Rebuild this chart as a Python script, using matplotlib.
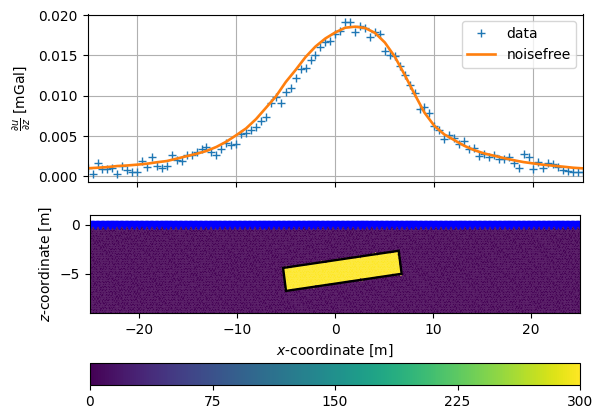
# Gravity response of a dipping block: data vs noisefree, plus the model mesh.

import numpy as np
import matplotlib
matplotlib.use("Agg")
import matplotlib.pyplot as plt
from matplotlib.path import Path
from matplotlib.tri import Triangulation
from matplotlib.cm import ScalarMappable
from matplotlib.colors import Normalize

# receiver profile, every 0.5 m from -25 to 25
receiver_x = np.arange(101) * 0.5 - 25

# observed data, in 1e-3 mGal
data_vals = [
    1.0, 0.25, 1.6, 0.9, 0.85, 1.07, 0.25, 1.3, 0.74, 0.57,
    0.57, 1.9, 1.2, 2.35, 1.3, 1.0, 1.3, 2.6, 2.0, 1.93,
    2.65, 2.7, 3.06, 3.4, 3.7, 3.0, 2.7, 3.4, 4.1, 3.85,
    4.0, 5.25, 5.4, 5.7, 6.1, 6.9, 7.3, 9.05, 9.88, 9.05,
    10.4, 10.9, 12.15, 13.3, 13.4, 14.4, 15.0, 16.1, 16.7, 16.8,
    17.7, 18.0, 19.2, 19.1, 17.9, 18.65, 18.4, 17.3, 17.9, 17.6,
    15.6, 15.0, 14.9, 13.68, 12.57, 11.3, 10.3, 8.35, 8.6, 7.8,
    6.3, 5.75, 4.6, 5.1, 4.7, 4.0, 4.4, 3.35, 3.55, 2.5,
    2.77, 2.43, 2.64, 2.1, 2.1, 2.43, 1.6, 1.0, 2.73, 2.35,
    0.87, 1.73, 1.07, 1.6, 1.5, 1.2, 0.78, 0.7, 0.57, 0.57,
    0.57,
]

# noisefree curve, every 1 m
curve_x = np.arange(51) - 25
curve_vals = [
    1.0, 1.07, 1.15, 1.28, 1.35, 1.45, 1.57, 1.75, 1.9, 2.2,
    2.5, 2.8, 3.15, 3.65, 4.3, 5.1, 5.95, 7.1, 8.5, 9.9,
    11.7, 13.2, 14.8, 16.1, 17.1, 17.85, 18.43, 18.56, 18.4, 17.8,
    16.6, 14.85, 12.6, 10.2, 7.9, 6.25, 5.2, 4.5, 3.8, 3.26,
    2.85, 2.56, 2.27, 2.0, 1.77, 1.6, 1.44, 1.32, 1.2, 1.07,
    0.99,
]

# block corners
block_x = [-5.3, 6.5, 6.8, -5.0]
block_z = [-4.4, -2.65, -5.0, -6.75]

cbar_ticks = [0, 75, 150, 225, 300]
background_val = 0
block_val = 300

W, H = 603.0, 417.0


def pix_axes(fig, left, right, top, bottom):
    return fig.add_axes([left / W, 1 - bottom / H, (right - left) / W, (bottom - top) / H])


fig = plt.figure(figsize=(W / 100, H / 100), dpi=100)

# data panel
ax1 = pix_axes(fig, 87.6, 583, 14.5, 182)
ax1.plot(receiver_x, np.array(data_vals) * 1e-3, "+", label="data")
ax1.plot(curve_x, np.array(curve_vals) * 1e-3, lw=1.9, label="noisefree")
ax1.set_xlim(-25, 25)
ax1.set_ylim(-0.0007, 0.02007)
ax1.set_xticks([-20, -10, 0, 10, 20])
ax1.set_xticklabels([])
ax1.set_yticks([0, 0.005, 0.01, 0.015, 0.02])
ax1.set_ylabel(r"$\frac{\partial u}{\partial z}$ [mGal]")
ax1.grid(True)
ax1.legend(loc="upper right")

# model panel, triangular mesh with the block cells set
ax2 = pix_axes(fig, 90, 580, 215, 313)
spacing = 0.3
row_step = spacing * np.sqrt(3) / 2
node_x, node_z = [], []
for row, z in enumerate(np.arange(0, -10, -row_step)):
    xs = np.arange(-26, 26, spacing) + (row % 2) * spacing / 2
    node_x.extend(xs)
    node_z.extend([z] * len(xs))
node_x = np.array(node_x)
node_z = np.array(node_z)
# shake the nodes a bit so the mesh does not look like a regular lattice
node_x = node_x + 0.05 * np.sin(91.7 * node_x + 57.3 * node_z)
node_z = node_z + 0.05 * np.sin(73.1 * node_z - 83.9 * node_x)
tri = Triangulation(node_x, node_z)
centers = np.column_stack([
    node_x[tri.triangles].mean(axis=1),
    node_z[tri.triangles].mean(axis=1),
])
inside = Path(np.column_stack([block_x, block_z])).contains_points(centers)
cell_vals = np.where(inside, block_val, background_val)

ax2.tripcolor(tri, facecolors=cell_vals, cmap="viridis", vmin=0, vmax=300,
              edgecolors="face", linewidth=0.3)
ax2.triplot(tri, color="w", lw=0.3, alpha=0.12)
ax2.fill(block_x, block_z, fc="none", ec="k", lw=1.7)
ax2.plot(receiver_x, np.zeros_like(receiver_x), "bv")
ax2.set_xlim(-25, 25)
ax2.set_ylim(-9, 1)
ax2.set_xticks([-20, -10, 0, 10, 20])
ax2.set_yticks([-5, 0])
ax2.set_xlabel(r"$x$-coordinate [m]")
ax2.set_ylabel(r"$z$-coordinate [m]")

# colorbar
cax = pix_axes(fig, 90, 580, 363, 385)
sm = ScalarMappable(norm=Normalize(0, 300), cmap="viridis")
fig.colorbar(sm, cax=cax, orientation="horizontal", ticks=cbar_ticks)

fig.savefig("out.png", dpi=100)
